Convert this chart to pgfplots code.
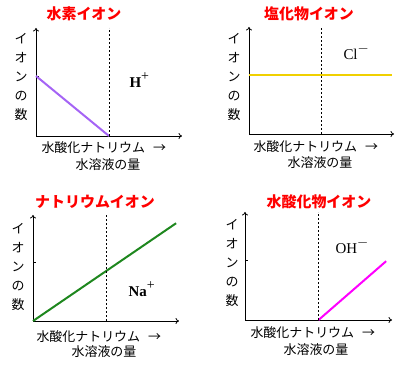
\documentclass[border=0pt]{standalone}
\usepackage{fontspec}
\setmainfont{Liberation Serif}
\newfontfamily\jp{Noto Sans CJK JP}
\usepackage{pgfplots}
\pgfplotsset{compat=1.18}
\usetikzlibrary{arrows.meta}
\definecolor{hpurple}{RGB}{165,100,245}
\definecolor{clyellow}{RGB}{240,208,0}
\definecolor{nagreen}{RGB}{30,135,30}
\definecolor{ohmag}{RGB}{255,0,255}
\pgfplotsset{ion/.style={
  scale only axis, axis lines=left, enlargelimits=false,
  xmin=0, xmax=2, ymin=0, ymax=1.8,
  xtick=\empty, ytick={1}, yticklabels={},
  tick align=inside, major tick length=3bp,
  every tick/.style={black, line width=0.8bp},
  axis line style={line width=0.8bp, -{To[length=3.5bp,width=6bp]}},
  clip=false, anchor=south west}}
\tikzset{ttl/.style={red, font=\jp\bfseries\fontsize{15}{15}\selectfont},
  ylab/.style={align=center, font=\jp\fontsize{13}{19}\selectfont},
  xlab/.style={font=\jp\fontsize{13}{15}\selectfont},
  ionb/.style={font=\bfseries\fontsize{15}{15}\selectfont},
  ionr/.style={font=\fontsize{15}{15}\selectfont}}
\newcommand{\ionsup}[1]{\raisebox{7.5bp}{\mdseries\fontsize{14}{14}\selectfont#1}}
\begin{document}
\begin{tikzpicture}[x=1bp,y=1bp]
\useasboundingbox (0,0) rectangle (408,370);
% Panel 1: H+
\begin{axis}[ion, at={(36bp,234bp)}, width=146bp, height=108bp]
\addplot[hpurple, line width=2bp] coordinates {(0,1) (1,0)};
\addplot[black, line width=0.7bp, dash pattern=on 2bp off 2bp] coordinates {(1,0) (1,1.8)};
\end{axis}
% Panel 2: Cl-
\begin{axis}[ion, at={(249bp,236bp)}, width=145bp, height=107bp]
\addplot[clyellow, line width=2bp] coordinates {(0,1) (1.97,1)};
\addplot[black, line width=0.7bp, dash pattern=on 2bp off 2bp] coordinates {(1,0) (1,1.8)};
\end{axis}
% Panel 3: Na+
\begin{axis}[ion, at={(33bp,49bp)}, width=146bp, height=106bp]
\addplot[nagreen, line width=2bp] coordinates {(0,0) (1.96,1.66)};
\addplot[black, line width=0.7bp, dash pattern=on 2bp off 2bp] coordinates {(1,0) (1,1.8)};
\end{axis}
% Panel 4: OH-
\begin{axis}[ion, at={(245bp,50bp)}, width=147bp, height=108bp]
\addplot[ohmag, line width=2bp] coordinates {(1,0) (1.92,0.98)};
\addplot[black, line width=0.7bp, dash pattern=on 2bp off 2bp] coordinates {(1,0) (1,1.8)};
\end{axis}
% titles
\node[ttl] at (84,356) {水素イオン};
\node[ttl] at (309,356) {塩化物イオン};
\node[ttl] at (95,168) {ナトリウムイオン};
\node[ttl] at (319,168) {水酸化物イオン};
% y labels
\node[ylab] at (21,293) {イ\\オ\\ン\\の\\数};
\node[ylab] at (234,293) {イ\\オ\\ン\\の\\数};
\node[ylab] at (18,103) {イ\\オ\\ン\\の\\数};
\node[ylab] at (232,107) {イ\\オ\\ン\\の\\数};
% x labels
\node[xlab, anchor=west] at (38,222) {水酸化ナトリウム\hspace{8bp}→};
\node[xlab] at (108,205) {水溶液の量};
\node[xlab, anchor=west] at (250,223) {水酸化ナトリウム\hspace{8bp}→};
\node[xlab] at (320,207) {水溶液の量};
\node[xlab, anchor=west] at (33,33) {水酸化ナトリウム\hspace{8bp}→};
\node[xlab] at (104,18) {水溶液の量};
\node[xlab, anchor=west] at (247,37) {水酸化ナトリウム\hspace{8bp}→};
\node[xlab] at (316,20) {水溶液の量};
% ion labels
\node[ionb, anchor=west] at (126,290) {H\ionsup{+}};
\node[ionr, anchor=west] at (340,318) {Cl\ionsup{$-$}};
\node[ionb, anchor=west] at (125,81) {Na\ionsup{+}};
\node[ionr, anchor=west] at (332,124) {OH\ionsup{$-$}};
\end{tikzpicture}
\end{document}
